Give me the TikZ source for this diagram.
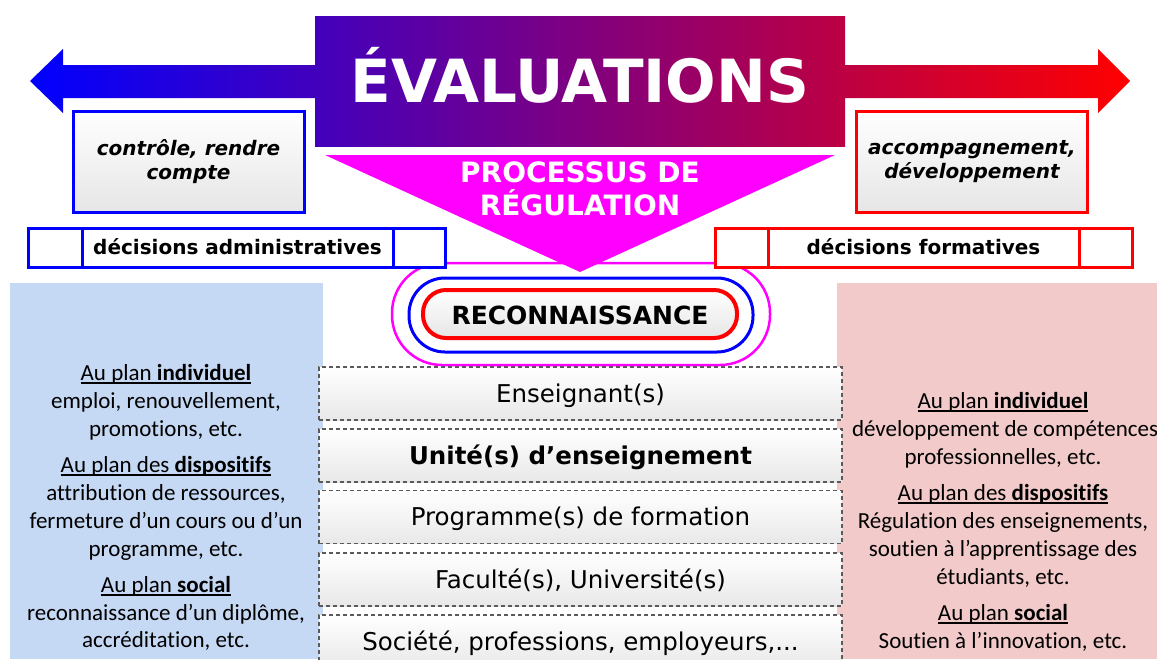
\documentclass[tikz,border=0pt]{standalone}
\usepackage{fontspec}
\setmainfont{DejaVu Sans}
\newfontfamily\carl[Ligatures=NoCommon]{Carlito}
\definecolor{lpanel}{RGB}{198,217,244}
\definecolor{rpanel}{RGB}{242,202,202}
\definecolor{dashgray}{RGB}{90,90,90}
\definecolor{mag}{RGB}{255,0,255}
\definecolor{pblue}{RGB}{0,0,255}
\definecolor{pred}{RGB}{255,0,0}
\newcommand\myul[1]{\setbox0\hbox{#1}\rlap{\rule[-3.5pt]{\wd0}{1.5pt}}\box0}
\begin{document}
\begin{tikzpicture}[x=1pt,y=-1pt,
  titlebox/.style={minimum width=530pt, minimum height=130pt, inner sep=0pt, text=white,
    font=\fontsize{59.5}{60}\selectfont\bfseries, text height=43.2pt, text depth=0pt,
    left color=pred!26!pblue, right color=pred!74!pblue},
  sidebox/.style={minimum width=231pt, minimum height=101pt, line width=3pt, inner sep=0pt,
    top color=white, bottom color=black!10, align=center,
    font=\fontsize{20}{24}\selectfont\bfseries\itshape},
  cell/.style={line width=3pt, fill=white, minimum height=39pt, inner sep=0pt,
    text height=14.6pt, text depth=0pt, font=\fontsize{20}{24}\selectfont\bfseries},
  dbox/.style={draw=dashgray, line width=1.2pt, dash pattern=on 4pt off 3pt,
    top color=white, bottom color=black!9, minimum width=523pt, minimum height=53pt,
    inner sep=0pt, text height=17.9pt, text depth=0pt, font=\fontsize{24.5}{29}\selectfont},
  ptext/.style={font=\carl\fontsize{23}{28}\selectfont, inner sep=0pt, anchor=base}]
\useasboundingbox (0,0) rectangle (1157,659);
\fill[white] (0,0) rectangle (1157,659);
% side panels
\fill[lpanel] (10,283) rectangle (323,659);
\fill[rpanel] (837,283) rectangle (1157,659);
% double arrow
\shade[left color=pblue, right color=pred] (30,81) -- (63,49) -- (63,65) -- (1098,65) -- (1098,49)
  -- (1130,81) -- (1098,113) -- (1098,98) -- (63,98) -- (63,113) -- cycle;
\node[titlebox] (eval) at (580,81) {ÉVALUATIONS};
% ellipses
\draw[mag, line width=2.5pt, rounded corners=50pt] (392,263) rectangle (770,365);
\draw[pblue, line width=3pt, rounded corners=36pt] (409,278) rectangle (753,352);
\draw[pred, line width=4pt, rounded corners=23pt, top color=white, bottom color=black!10] (423,290) rectangle (737,338);
\node[font=\fontsize{25}{29}\selectfont\bfseries, inner sep=0pt] (reco) at (580,315.5) {RECONNAISSANCE};
% triangle
\fill[mag] (325,155) -- (835,155) -- (580,272) -- cycle;
\node[font=\fontsize{28}{33}\selectfont\bfseries, text=white, align=center, inner sep=0pt] (proc) at (580,188.5) {PROCESSUS DE\\RÉGULATION};
% side boxes
\node[sidebox, draw=pblue] (ctrl) at (188.5,161.5) {contrôle, rendre\\compte};
\node[sidebox, draw=pred] (acc) at (972,161.5) {accompagnement,\\développement};
% decision bars
\node[cell, draw=pblue, minimum width=54pt] (al) at (55,247.5) {};
\node[cell, draw=pblue, minimum width=311pt] (am) at (237.5,247.5) {décisions administratives};
\node[cell, draw=pblue, minimum width=52pt] (ar) at (419,247.5) {};
\node[cell, draw=pred, minimum width=53pt] (fl) at (741.5,247.5) {};
\node[cell, draw=pred, minimum width=311pt] (fm) at (923.5,247.5) {décisions formatives};
\node[cell, draw=pred, minimum width=53pt] (fr) at (1105.5,247.5) {};
% dashed boxes
\node[dbox] (b1) at (580.5,393.5) {Enseignant(s)};
\node[dbox, font=\fontsize{24.5}{29}\selectfont\bfseries] (b2) at (580.5,455.5) {Unité(s) d’enseignement};
\node[dbox] (b3) at (580.5,517) {Programme(s) de formation};
\node[dbox] (b4) at (580.5,579.5) {Faculté(s), Université(s)};
\node[dbox] (b5) at (580.5,641.5) {Société, professions, employeurs,...};
% left panel text
\node[ptext] (l1) at (166,380) {\myul{Au plan \textbf{individuel}}};
\node[ptext] (l2) at (166,408) {emploi, renouvellement,};
\node[ptext] (l3) at (166,436) {promotions, etc.};
\node[ptext] (l4) at (166,472) {\myul{Au plan des \textbf{dispositifs}}};
\node[ptext] (l5) at (166,500) {attribution de ressources,};
\node[ptext] (l6) at (166,528) {fermeture d’un cours ou d’un};
\node[ptext] (l7) at (166,556) {programme, etc.};
\node[ptext] (l8) at (166,592) {\myul{Au plan \textbf{social}}};
\node[ptext] (l9) at (166,620) {reconnaissance d’un diplôme,};
\node[ptext] (l10) at (166,647) {accréditation, etc.};
% right panel text
\node[ptext] (r1) at (1003,408) {\myul{Au plan \textbf{individuel}}};
\node[ptext] (r2) at (1005,436) {développement de compétences};
\node[ptext] (r3) at (1003,464) {professionnelles, etc.};
\node[ptext] (r4) at (1003,500) {\myul{Au plan des \textbf{dispositifs}}};
\node[ptext] (r5) at (1003,528) {Régulation des enseignements,};
\node[ptext] (r6) at (1003,556) {soutien à l’apprentissage des};
\node[ptext] (r7) at (1003,584) {étudiants, etc.};
\node[ptext] (r8) at (1003,620) {\myul{Au plan \textbf{social}}};
\node[ptext] (r9) at (1003,648) {Soutien à l’innovation, etc.};
\end{tikzpicture}
\end{document}
